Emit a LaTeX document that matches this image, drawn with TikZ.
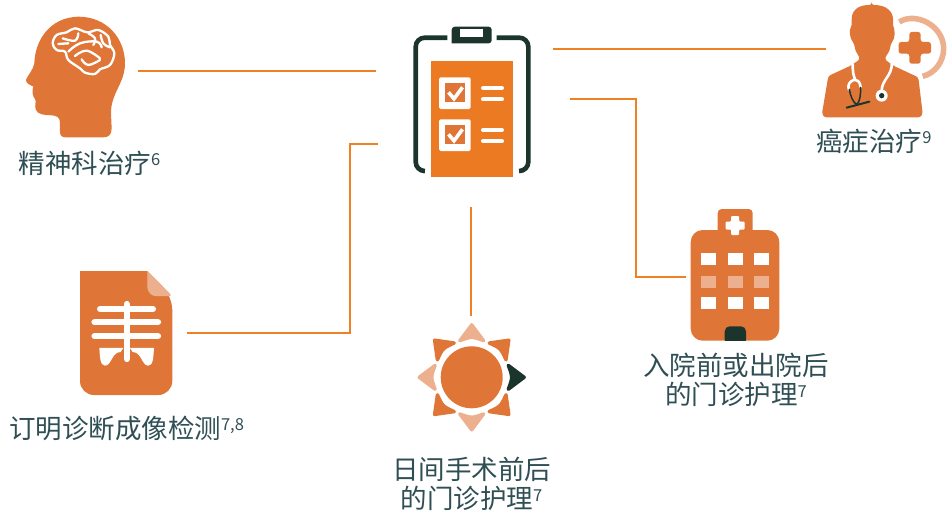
\documentclass[tikz,border=0pt]{standalone}
\usepackage{fontspec}
\setmainfont{Noto Sans CJK SC}
\definecolor{iconorange}{HTML}{DF7637}
\definecolor{wireorange}{HTML}{F08024}
\definecolor{sheetorange}{HTML}{EC7A22}
\definecolor{paleorange}{HTML}{EDB08E}
\definecolor{darkgreen}{HTML}{1B352D}
\definecolor{labelteal}{HTML}{2F4F55}
\newcommand\noteref[1]{\raisebox{7.5pt}{\fontsize{16.5}{16.5}\selectfont #1}}
\tikzset{
  wire/.style={color=wireorange,line width=2.7pt},
  caption/.style={text=labelteal,align=center,inner sep=0pt,font=\fontsize{26.5}{29}\selectfont},
  zoomed/.style={x=0.3333pt,y=-0.3333pt},
  whiteline/.style={color=white,line width=2.3pt,line cap=round,line join=round},
}
\begin{document}
\begin{tikzpicture}[x=1pt,y=-1pt]
\useasboundingbox (0,0) rectangle (952,514);
% Drawing head
\begin{scope}[zoomed]
\fill[iconorange] (195,412) .. controls (185,412) and (180,405) .. (180,395) -- (180,368) .. controls (180,352) and (170,347) .. (155,346) .. controls (135,345) and (112,345) .. (107,328) .. controls (103,315) and (110,305) .. (105,297) .. controls (98,290) and (95,272) .. (100,260) .. controls (90,255) and (78,250) .. (78,240) .. controls (80,230) and (100,210) .. (103,190) .. controls (105,120) and (150,52) .. (235,50) .. controls (320,50) and (375,115) .. (375,190) .. controls (375,250) and (332,280) .. (333,340) -- (335,385) .. controls (335,405) and (325,412) .. (310,412) -- cycle;
\draw[whiteline] plot[smooth cycle,tension=0.6] coordinates {(158,130) (170,105) (200,97) (225,85) (262,97) (295,90) (325,110) (330,135) (343,160) (330,195) (300,208) (285,222) (255,218) (240,205) (205,180) (195,155) (170,150)};
\draw[whiteline] plot[smooth,tension=0.7] coordinates {(205,155) (240,130) (290,125) (305,142)};
\draw[whiteline] plot[smooth,tension=0.7] coordinates {(225,168) (260,152) (300,175)};
\draw[whiteline] plot[smooth,tension=0.7] coordinates {(245,178) (265,195) (300,180)};
\draw[whiteline] plot[smooth,tension=0.7] coordinates {(188,115) (225,122) (235,100)};
\draw[whiteline] plot[smooth,tension=0.7] coordinates {(265,100) (285,115) (280,135)};
\draw[whiteline] plot[smooth,tension=0.7] coordinates {(302,105) (310,130) (330,142)};
\draw[whiteline] (175,132) -- (205,130);
\end{scope}
% Drawing clipboard
\draw[color=darkgreen,line width=4.6pt,rounded corners=9pt] (447.3,37.7) -- (415.7,37.7) -- (415.7,171) -- (423.7,171);
\draw[color=darkgreen,line width=4.6pt,rounded corners=9pt] (496.7,37.7) -- (528.3,37.7) -- (528.3,171) -- (520,171);
\fill[darkgreen,rounded corners=3pt] (451.7,43.3) -- (451.7,26.7) -- (491.7,26.7) -- (491.7,43.3) [sharp corners] -- cycle;
\fill[white] (460,29) rectangle (483.3,36.7);
\fill[sheetorange] (431,60.7) rectangle (513.3,177.3);
\foreach \rowy in {77.3,119.3} {
  \fill[white,rounded corners=1.5pt] (439,\rowy) rectangle +(31.7,31.7);
  \fill[iconorange] (445,\rowy+6) rectangle +(20,19);
  \draw[color=white,line width=3.6pt] (448.5,\rowy+15) -- (454,\rowy+21.5) -- (462.5,\rowy+10);
  \draw[color=white,line width=4pt,line cap=round] (483,\rowy+10.7) -- (502,\rowy+10.7);
  \draw[color=white,line width=4pt,line cap=round] (483,\rowy+22) -- (502,\rowy+22);
}
% Drawing doctor
\begin{scope}[shift={(810,0)},zoomed]
\draw[color=paleorange,line width=5.6pt] (268,66) .. controls (315,35) and (400,75) .. (401,145) .. controls (401,185) and (375,220) .. (338,229);
\fill[iconorange,rounded corners=2.5pt] (298,96) -- (332,96) -- (332,126) -- (363,126) -- (363,161) -- (332,161) -- (332,191) -- (298,191) -- (298,161) -- (266,161) -- (266,126) -- (298,126) -- cycle;
\fill[iconorange,rounded corners=2.5pt] (185,15) .. controls (140,15) and (125,35) .. (125,65) .. controls (125,80) and (117,90) .. (121,108) .. controls (124,122) and (130,125) .. (134,140) .. controls (137,155) and (145,165) .. (150,178) -- (122,197) -- (55,228) -- (36,340) -- (42,352) -- (332,352) -- (338,340) -- (325,232) -- (250,197) -- (224,178) .. controls (230,165) and (238,155) .. (241,140) .. controls (245,125) and (251,122) .. (253,108) .. controls (256,90) and (249,80) .. (249,65) .. controls (249,35) and (230,15) .. (185,15) -- cycle;
\draw[color=white,line width=2.6pt] (128,190) .. controls (128,215) and (130,225) .. (135,238) ;
\draw[color=white,line width=2.6pt,line cap=round] (116,268) .. controls (108,240) and (150,225) .. (152,262);
\draw[color=white,line width=2.6pt] (245,190) .. controls (248,225) and (215,240) .. (215,272);
\fill[white] (215,287) circle (18);
\fill[darkgreen] (215,287) circle (8);
\draw[color=darkgreen,line width=1.5pt,line cap=round] (118,268) .. controls (122,290) and (128,305) .. (140,314) .. controls (150,305) and (152,285) .. (152,262);
\draw[color=darkgreen,line width=2pt,line cap=round] (110,323) -- (178,305);
\end{scope}
% Drawing hospital
\fill[iconorange,rounded corners=4pt] (717.7,236) -- (717.7,209) -- (752.7,209) -- (752.7,236) -- cycle;
\fill[iconorange,rounded corners=12pt] (690.7,230) rectangle (779.3,340.7);
\fill[white,rounded corners=1pt] (731,216) -- (739,216) -- (739,221.5) -- (744.5,221.5) -- (744.5,229.5) -- (739,229.5) -- (739,235) -- (731,235) -- (731,229.5) -- (725.5,229.5) -- (725.5,221.5) -- (731,221.5) -- cycle;
\foreach \colx in {701,728,754} {
  \fill[white] (\colx,253) rectangle +(15,12);
  \fill[paleorange] (\colx,276) rectangle +(15,12);
  \fill[white] (\colx,297) rectangle +(15,12);
}
\fill[darkgreen,rounded corners=5pt] (724.7,345) -- (724.7,326.3) -- (746,326.3) -- (746,345) -- cycle;
\fill[white] (715,340.7) rectangle (755,350);
% Drawing sun
\begin{scope}[shift={(471.7,377.3)}]
\fill[iconorange] (0,0) circle (31);
\foreach \ang/\raycol in {0/darkgreen,45/iconorange,90/paleorange,135/iconorange,180/paleorange,225/iconorange,270/paleorange,315/iconorange} {
  \filldraw[fill=\raycol,draw=\raycol,line width=3.4pt,line join=round] (\ang-18:38.5) -- (\ang:52.5) -- (\ang+18:38.5) .. controls (\ang:41) .. cycle;
}
\end{scope}
% Drawing x-ray sheet
\fill[iconorange,rounded corners=14pt] (80,271) -- (80,395) -- (172.3,395) -- (172.3,296) [sharp corners] -- (147.3,271) -- cycle;
\fill[paleorange,rounded corners=3pt] (147.3,271) -- (172.3,296) -- (152,296) -- (147.3,290) [sharp corners] -- cycle;
\begin{scope}[shift={(70,260)},zoomed]
\fill[white] (88,264) -- (160,264) -- (152,276) .. controls (125,276) and (125,317) .. (105,317) .. controls (90,317) and (90,290) .. (88,264) -- cycle;
\fill[white] (252,264) -- (180,264) -- (188,276) .. controls (215,276) and (215,317) .. (235,317) .. controls (250,317) and (250,290) .. (252,264) -- cycle;
\end{scope}
\draw[color=white,line width=6.2pt,line cap=round] (126.7,304) -- (126.7,359);
\draw[color=white,line width=6pt,line cap=round] (100,309) -- (153,309);
\draw[color=white,line width=6.2pt,line cap=round] (94.5,322.3) -- (158,322.3);
\draw[color=white,line width=6.2pt,line cap=round] (94.5,336.3) -- (158,336.3);
% Done with icons; drawing wires
\coordinate (headout) at (138,71);
\coordinate (boardleft) at (376,71);
\coordinate (xrayout) at (187,333);
\coordinate (boardlow) at (378,144);
\coordinate (boardbase) at (471,207);
\coordinate (sunin) at (471,316);
\coordinate (boardright) at (570,99);
\coordinate (hospitalin) at (686,277);
\coordinate (boardtop) at (553,49);
\coordinate (doctorin) at (826,49);
\draw[wire] (headout) -- (boardleft);
\draw[wire] (xrayout) -- (350,333) -- (350,144) -- (boardlow);
\draw[wire] (boardbase) -- (sunin);
\draw[wire] (boardright) -- (636,99) -- (636,277) -- (hospitalin);
\draw[wire] (boardtop) -- (doctorin);
% Done with wires; drawing labels
\node[caption] (psychlabel) at (89.5,163) {精神科治疗\noteref{6}};
\node[caption] (cancerlabel) at (874,141) {癌症治疗\noteref{9}};
\node[caption] (imagelabel) at (126.5,428) {订明诊断成像检测\noteref{7,8}};
\node[caption] (hospitallabel) at (736,380) {入院前或出院后\\的门诊护理\noteref{7}};
\node[caption] (daylabel) at (471.5,484) {日间手术前后\\的门诊护理\noteref{7}};
\end{tikzpicture}
\end{document}
